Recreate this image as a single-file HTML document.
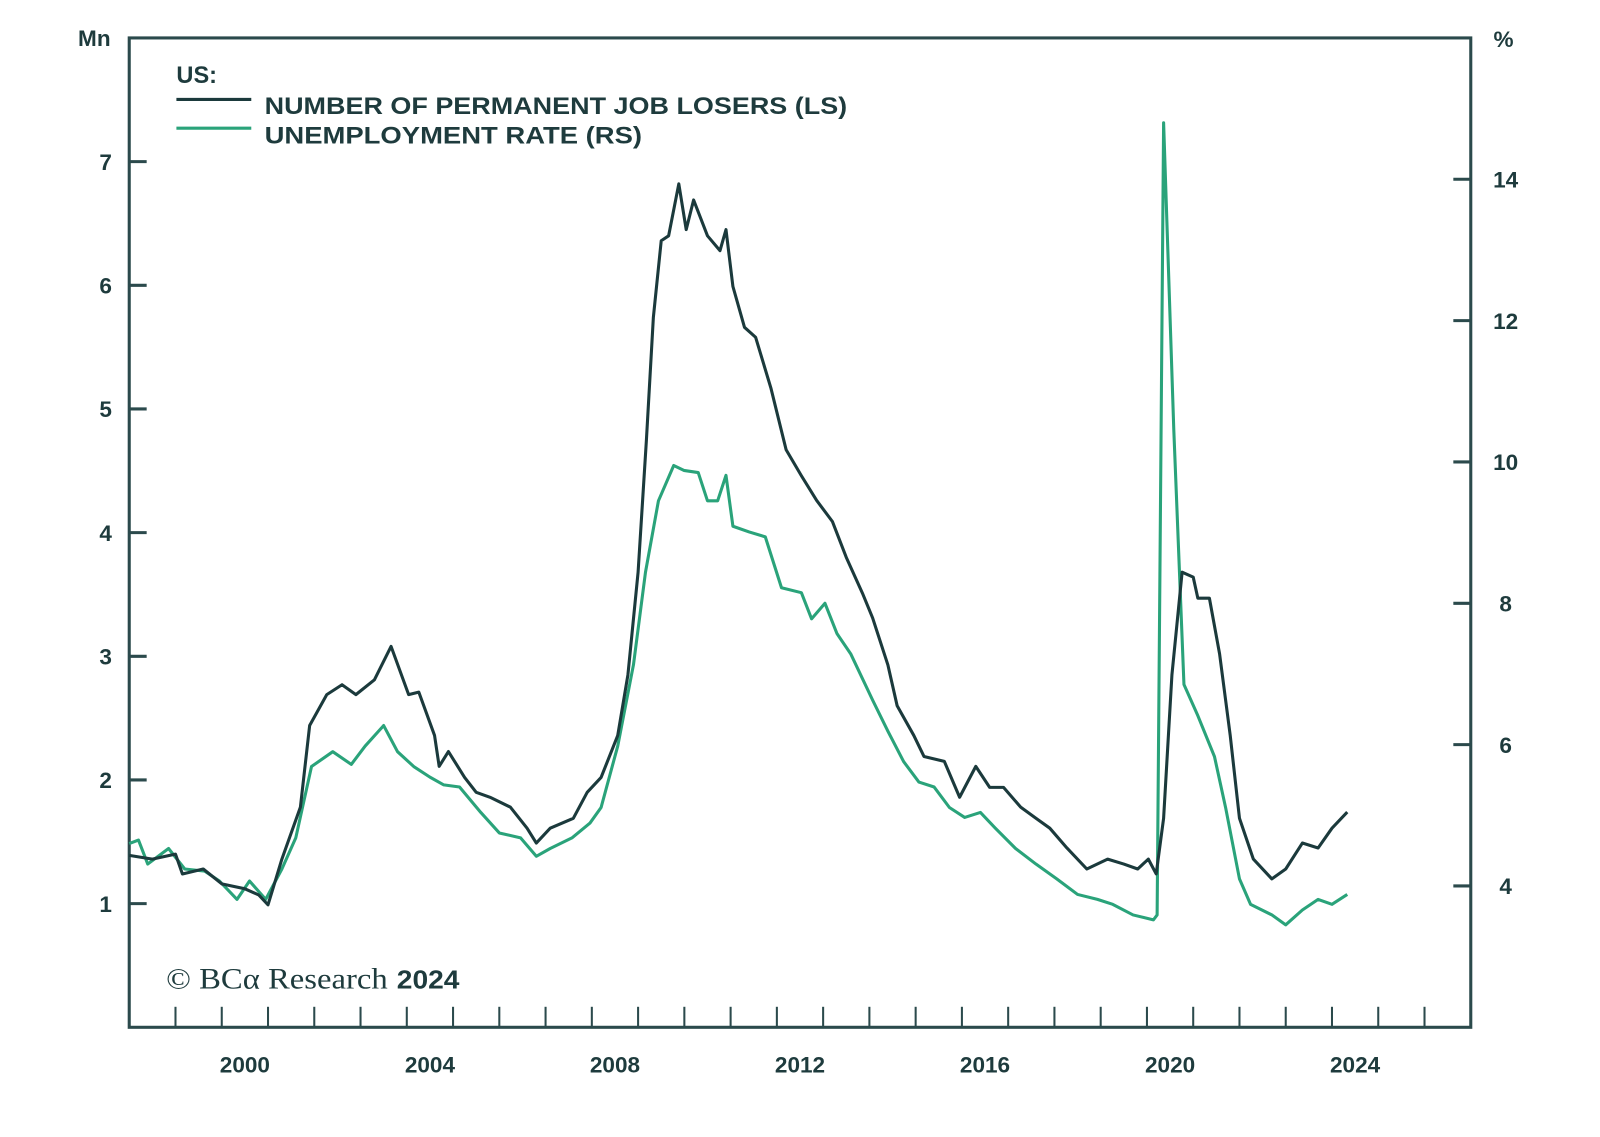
<!DOCTYPE html>
<html><head><meta charset="utf-8"><style>
html,body{margin:0;padding:0;background:#fff}
svg{display:block}
text{font-family:"Liberation Sans",sans-serif;font-weight:bold;fill:#1e3b3d}
</style></head><body>
<svg id="chart" width="1600" height="1137" viewBox="0 0 1560 1109" preserveAspectRatio="none" xmlns="http://www.w3.org/2000/svg">
<g id="axes"></g>
<g id="series"></g>
<g>
<text x="172" y="81" font-size="23">US:</text>
<line x1="172" y1="97" x2="245" y2="97" stroke="#1b3a3c" stroke-width="3"/>
<text x="258" y="111" font-size="23" textLength="568" lengthAdjust="spacingAndGlyphs">NUMBER OF PERMANENT JOB LOSERS (LS)</text>
<line x1="172" y1="125" x2="245" y2="125" stroke="#2aa37a" stroke-width="3"/>
<text x="258" y="140" font-size="23" textLength="368" lengthAdjust="spacingAndGlyphs">UNEMPLOYMENT RATE (RS)</text>
</g>
<text x="162" y="964" font-size="29" textLength="286" lengthAdjust="spacingAndGlyphs"><tspan style="font-family:'Liberation Serif',serif;font-weight:normal">© BCα Research</tspan> <tspan font-size="25">2024</tspan></text>
<text x="92" y="45" font-size="22" text-anchor="middle">Mn</text>
<text x="1466" y="46" font-size="22" text-anchor="middle">%</text>
</svg>
<script>
const xTickYears=[2000,2004,2008,2012,2016,2020,2024];
const leftTicks=[1,2,3,4,5,6,7];
const rightTicks=[4,6,8,10,12,14];
const jobYears=[1998.0,1998.5,1999.0,1999.15,1999.6,2000.0,2000.5,2000.8,2001.0,2001.3,2001.7,2001.9,2002.27,2002.6,2002.9,2003.3,2003.66,2004.04,2004.26,2004.6,2004.7,2004.9,2005.25,2005.5,2005.8,2006.24,2006.6,2006.8,2007.1,2007.6,2007.9,2008.2,2008.56,2008.78,2009.0,2009.18,2009.33,2009.5,2009.66,2009.88,2010.04,2010.2,2010.5,2010.77,2010.9,2011.05,2011.3,2011.54,2011.87,2012.2,2012.53,2012.86,2013.2,2013.5,2013.85,2014.07,2014.4,2014.6,2014.96,2015.18,2015.62,2015.95,2016.3,2016.6,2016.9,2017.27,2017.6,2017.9,2018.27,2018.7,2019.15,2019.5,2019.8,2020.03,2020.2,2020.36,2020.54,2020.76,2021.0,2021.1,2021.35,2021.57,2021.8,2022.0,2022.3,2022.7,2023.0,2023.36,2023.7,2024.0,2024.33];
const jobValues=[1.39,1.36,1.40,1.24,1.28,1.16,1.12,1.07,0.99,1.36,1.78,2.44,2.69,2.77,2.69,2.81,3.08,2.69,2.71,2.36,2.11,2.23,2.02,1.90,1.86,1.78,1.61,1.49,1.61,1.69,1.90,2.02,2.36,2.85,3.68,4.75,5.74,6.36,6.40,6.82,6.45,6.69,6.40,6.28,6.45,5.99,5.66,5.58,5.17,4.67,4.46,4.26,4.09,3.80,3.51,3.31,2.93,2.60,2.36,2.19,2.15,1.86,2.11,1.94,1.94,1.78,1.69,1.61,1.45,1.28,1.36,1.32,1.28,1.36,1.24,1.69,2.85,3.68,3.64,3.47,3.47,3.02,2.36,1.69,1.36,1.20,1.28,1.49,1.45,1.61,1.74];
const urYears=[1998.0,1998.2,1998.4,1998.85,1999.2,1999.63,1999.95,2000.33,2000.6,2000.95,2001.3,2001.6,2001.94,2002.4,2002.8,2003.1,2003.5,2003.8,2004.15,2004.5,2004.8,2005.14,2005.6,2006.0,2006.46,2006.8,2007.1,2007.57,2007.96,2008.2,2008.56,2008.9,2009.16,2009.44,2009.77,2009.99,2010.3,2010.5,2010.72,2010.9,2011.05,2011.4,2011.75,2012.1,2012.53,2012.75,2013.04,2013.3,2013.6,2014.07,2014.4,2014.74,2015.07,2015.4,2015.73,2016.06,2016.4,2016.72,2017.16,2017.6,2018.05,2018.5,2018.93,2019.26,2019.7,2020.14,2020.22,2020.36,2020.58,2020.8,2021.1,2021.46,2021.7,2022.0,2022.24,2022.7,2023.0,2023.36,2023.7,2024.0,2024.33];
const urValues=[4.60,4.65,4.31,4.53,4.24,4.21,4.07,3.81,4.07,3.81,4.24,4.68,5.69,5.90,5.72,5.98,6.27,5.90,5.69,5.54,5.43,5.40,5.04,4.75,4.68,4.42,4.53,4.68,4.89,5.11,5.98,7.13,8.44,9.45,9.95,9.88,9.85,9.45,9.45,9.81,9.09,9.01,8.94,8.22,8.15,7.78,8.00,7.57,7.28,6.63,6.19,5.76,5.47,5.40,5.11,4.97,5.04,4.82,4.53,4.31,4.10,3.88,3.81,3.74,3.59,3.52,3.59,14.8,10.46,6.85,6.41,5.83,5.11,4.10,3.74,3.59,3.45,3.66,3.81,3.74,3.88];

const L=126,R=1434,T=37,B=1002;
const x=y=>L+(y-1998)/(2027-1998)*(R-L);
const yL=v=>B-v/8*(B-T);
const yR=v=>B-(v-2)/14*(B-T);
const NS="http://www.w3.org/2000/svg";
function mk(tag,attrs,parent){const e=document.createElementNS(NS,tag);for(const k in attrs)e.setAttribute(k,attrs[k]);parent.appendChild(e);return e;}
const axes=document.getElementById('axes'),series=document.getElementById('series');
let frame=mk('rect',{x:L,y:T,width:R-L,height:B-T,fill:'none',stroke:'#2b4a4c','stroke-width':3},axes);


for(let yr=1999;yr<=2026;yr++){
  const t=mk('line',{x1:x(yr),x2:x(yr),y1:B,y2:B-20,stroke:'#2b4a4c','stroke-width':2},axes);
  
  
}
xTickYears.forEach(yr=>{
  const t=mk('text',{x:x(yr+0.5),y:1046,'font-size':22,'text-anchor':'middle'},axes);t.textContent=yr;
  
  
});
leftTicks.forEach(v=>{
  const l=mk('line',{x1:L,x2:L+17,y1:yL(v),y2:yL(v),stroke:'#2b4a4c','stroke-width':3},axes);
  
  
  const t=mk('text',{x:103,y:yL(v)+8,'font-size':22,'text-anchor':'middle'},axes);t.textContent=v;
  
  
});
rightTicks.forEach(v=>{
  const l=mk('line',{x1:R-17,x2:R,y1:yR(v),y2:yR(v),stroke:'#2b4a4c','stroke-width':3},axes);
  
  
  const t=mk('text',{x:1468,y:yR(v)+8,'font-size':22,'text-anchor':'middle'},axes);t.textContent=v;
  
  
});
const ur=mk('polyline',{points:urYears.map((d,i)=>x(d)+','+yR(urValues[i])).join(' '),fill:'none',stroke:'#2aa37a','stroke-width':3,'stroke-linejoin':'round'},series);


const jl=mk('polyline',{points:jobYears.map((d,i)=>x(d)+','+yL(jobValues[i])).join(' '),fill:'none',stroke:'#1b3a3c','stroke-width':3,'stroke-linejoin':'round'},series);


</script>
</body></html>
